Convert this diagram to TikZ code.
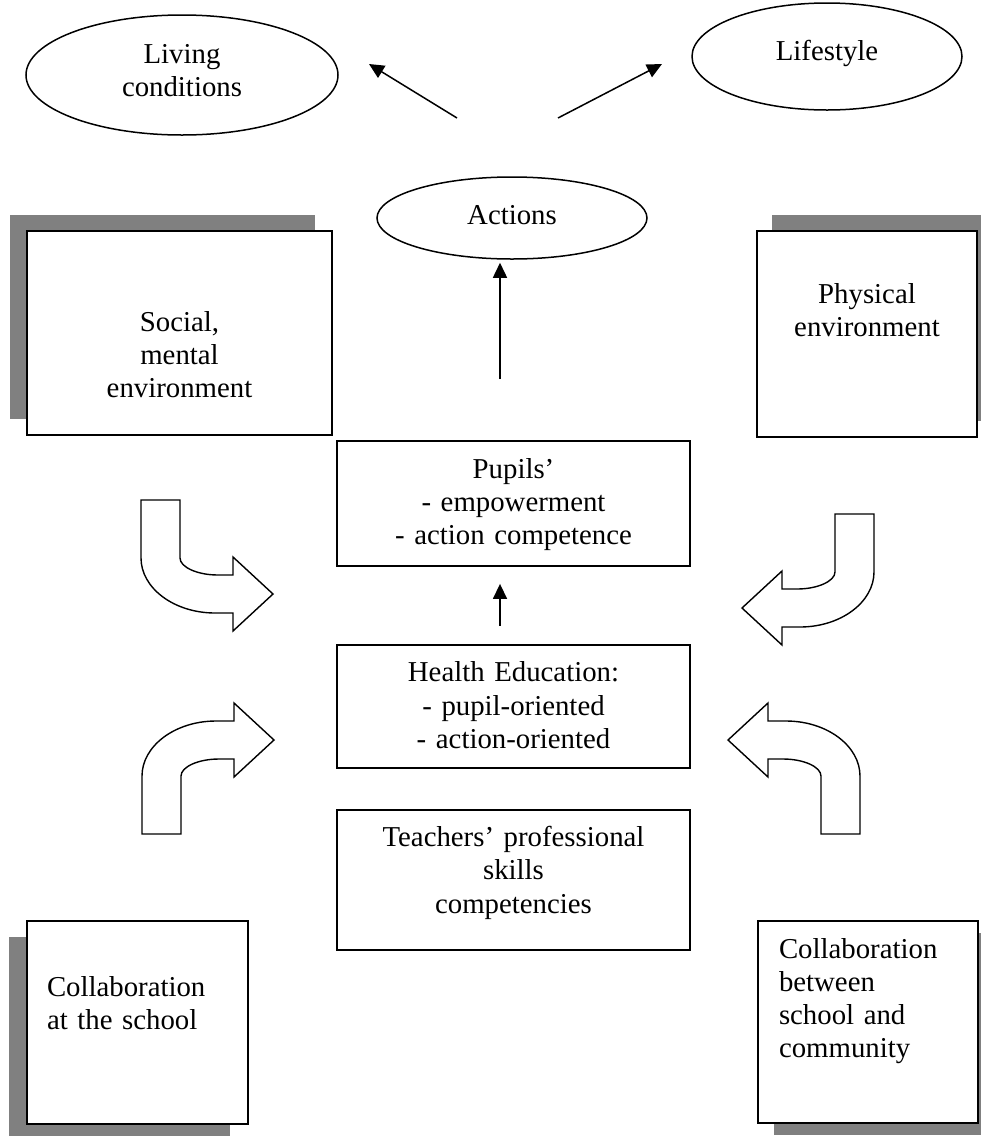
\documentclass[tikz,border=0pt]{standalone}
\usepackage{fontspec}
\setmainfont{Liberation Serif}
\usetikzlibrary{arrows.meta,positioning,shapes.geometric,shadows}

\begin{document}
\begin{tikzpicture}[x=1pt,y=-1pt,node distance=40pt,
    font=\fontsize{28.8pt}{33.3pt}\selectfont,
    box/.style={draw,rectangle,line width=1.8pt,inner sep=0pt,fill=white},
    midbox/.style={box,text width=353pt,align=center,text height=37pt},
    oval/.style={draw,ellipse,line width=1.5pt,inner sep=0pt,text width=160pt,align=center,text height=20pt},
    shade/.style 2 args={drop shadow={shadow xshift=#1,shadow yshift=#2,fill=black!50,opacity=1}},
    arr/.style={-{Triangle[length=15pt,width=14pt]},line width=1.5pt},
    bentline/.style={draw,line width=1.4pt},
    bent/.pic={\path[bentline] (-132,-94) -- (-93,-94) -- (-93,-36)
        .. controls (-93,-27) and (-76,-19) .. (-55,-19) -- (-40,-19) -- (-40,-37)
        -- (0,0) -- (-40,37) -- (-40,19) -- (-58,19)
        .. controls (-99,19) and (-132,-6) .. (-132,-36) -- cycle;}]
    \useasboundingbox (0,0) rectangle (981,1136);

    % outcomes
    \node[oval,minimum width=312pt,minimum height=120pt,text depth=44pt] (living)  at (182,75)   {Living\\conditions};
    \node[oval,minimum width=270pt,minimum height=107pt,text depth=13pt] (life)    at (827,56.5) {Lifestyle};
    \node[oval,minimum width=270pt,minimum height=82pt,text depth=8pt]   (actions) at (512,218)  {Actions};

    % middle column
    \node[midbox,text depth=88pt]  (pupils)   at (513.5,503.5)     {Pupils’\\- empowerment\\- action competence};
    \node[midbox,text depth=86pt]  (health)   [below=77pt of pupils] {Health Education:\\- pupil-oriented\\- action-oriented};
    \node[midbox,text depth=103pt] (teachers) [below=of health]      {Teachers’ professional\\skills\\competencies};

    % surroundings
    \node[box,shade={-17pt}{16pt},text width=305pt,align=center,text height=100pt,text depth=104pt]
        (social) at (179.5,333) {Social,\\mental\\environment};
    \node[box,shade={15pt}{16pt},text width=220pt,align=center,text height=72pt,text depth=134pt]
        (physical) at (867,334) {Physical\\environment};
    \node[box,shade={-18pt}{-16pt},inner xsep=20pt,text width=181pt,align=left,text height=75pt,text depth=128pt]
        (school) at (137.5,1022.5) {Collaboration\\at the school};
    \node[box,shade={16pt}{-12pt},inner xsep=21pt,text width=178pt,align=left,text height=37pt,text depth=165pt]
        (community) at (868,1022) {Collaboration\\between\\school and\\community};

    % arrows
    \coordinate (axis)  at (500,0);
    \coordinate (fromL) at (457,118);
    \coordinate (toL)   at (369,64);
    \coordinate (fromR) at (558,118);
    \coordinate (toR)   at (662,64);
    \draw[arr] (fromL) -- (toL);
    \draw[arr] (fromR) -- (toR);
    \draw[arr,shorten <=61pt,shorten >=3pt] (pupils.north -| axis) -- (actions.south -| axis);
    \draw[arr,shorten <=18pt,shorten >=17pt] (health.north -| axis) -- (pupils.south -| axis);

    \pic              at (273,594) {bent};
    \pic[yscale=-1]   at (274,740) {bent};
    \pic[xscale=-1]   at (742,608) {bent};
    \pic[scale=-1]    at (728,740) {bent};
\end{tikzpicture}
\end{document}
